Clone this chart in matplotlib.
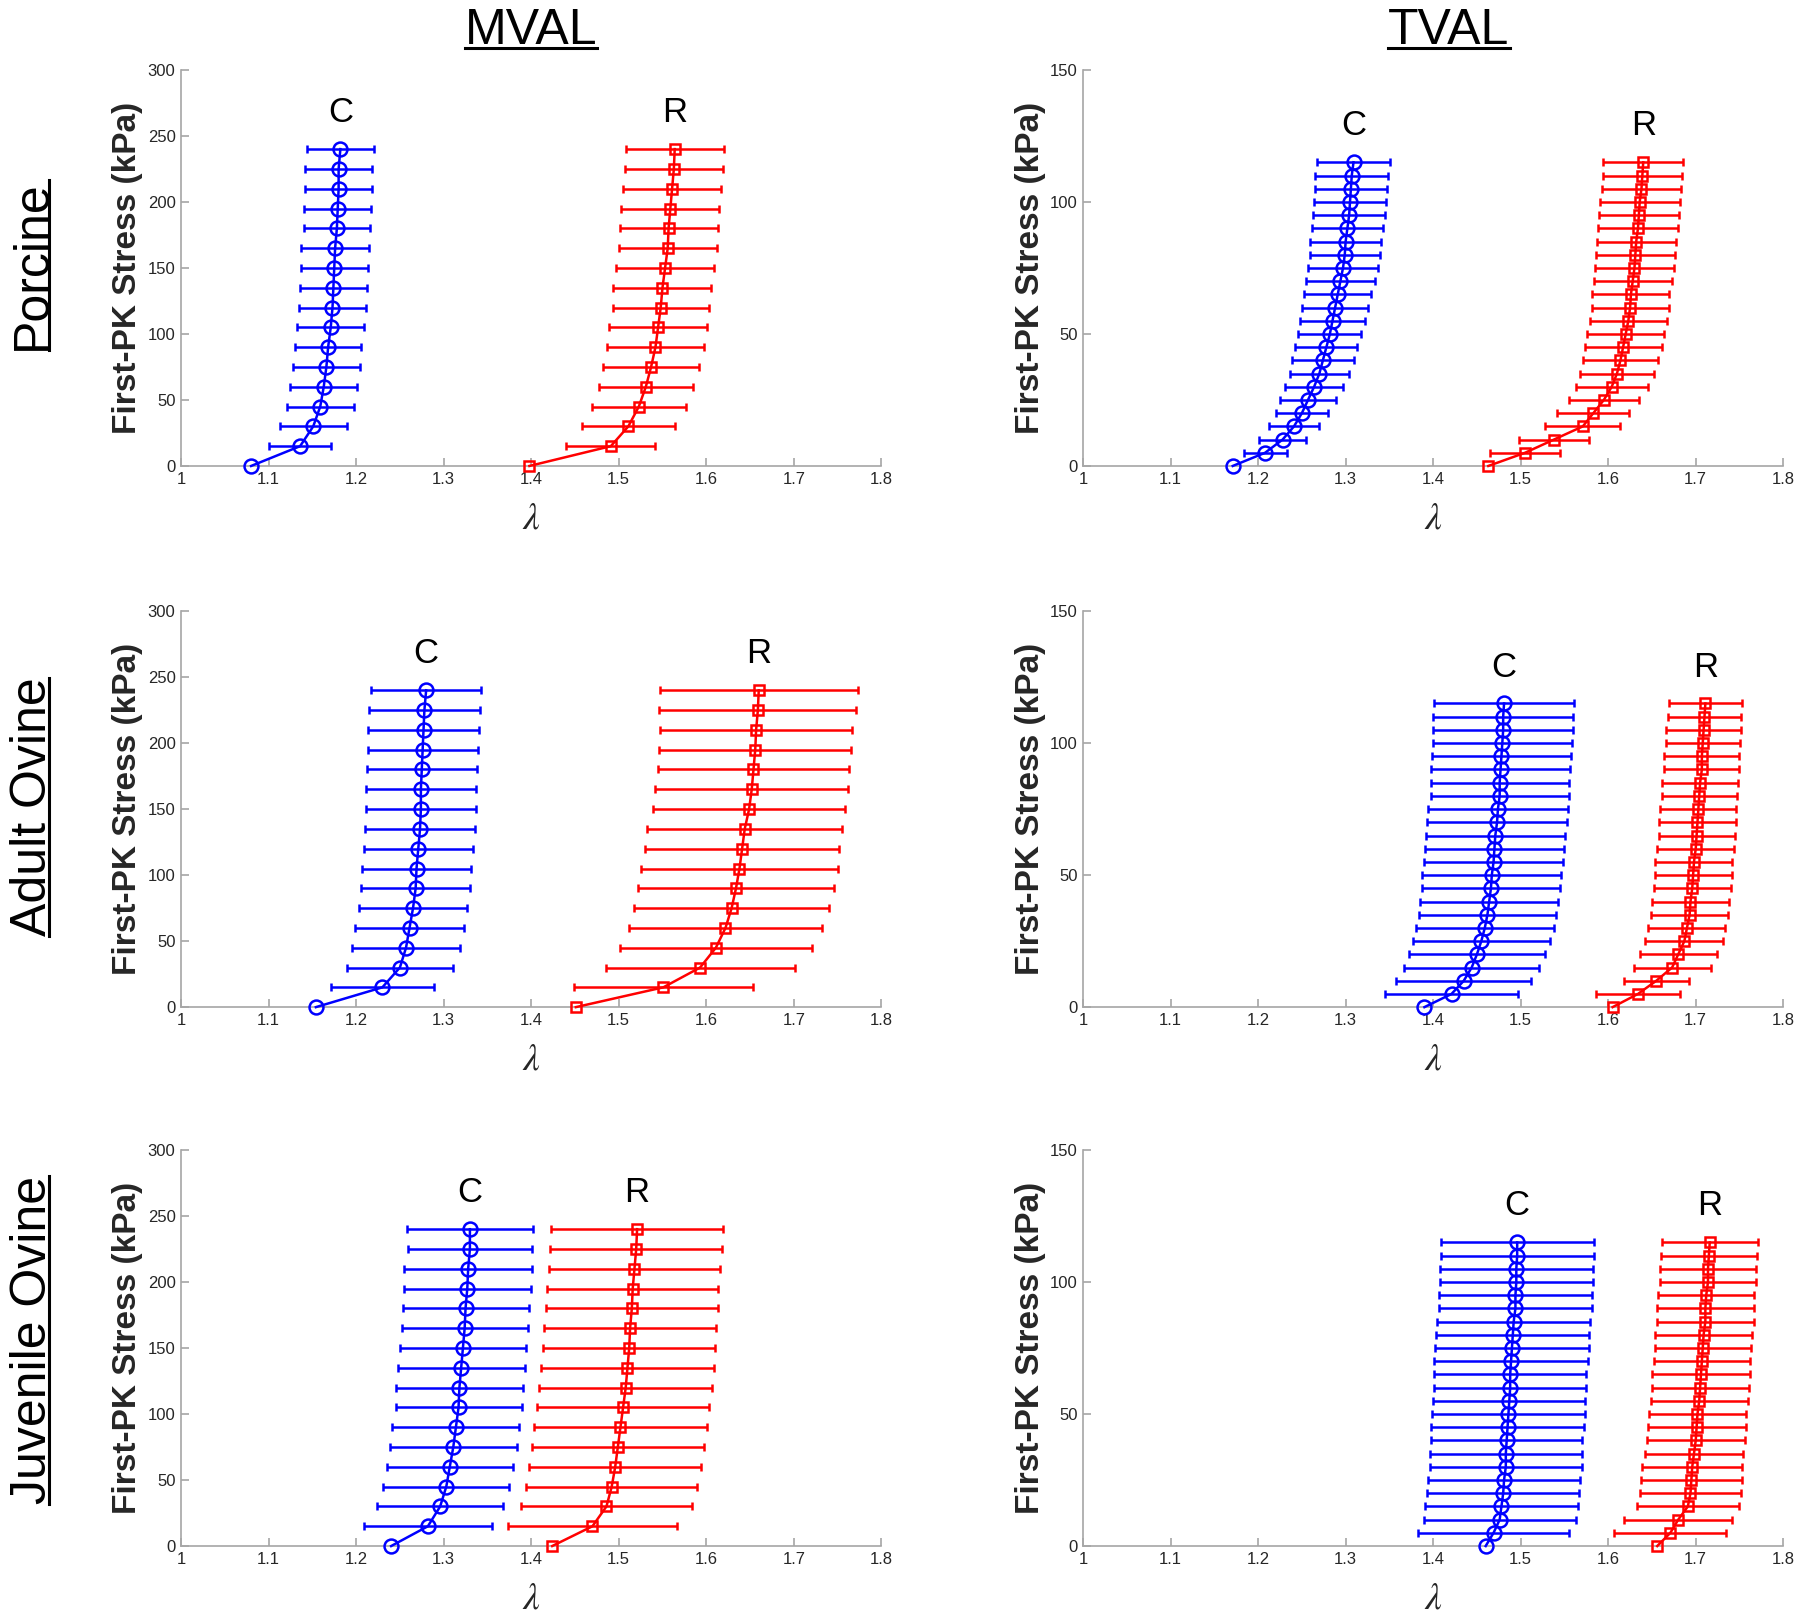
import numpy as np
import matplotlib
matplotlib.use("Agg")
import matplotlib.pyplot as plt
from matplotlib.lines import Line2D

plt.rcParams["font.family"] = ["Liberation Sans", "DejaVu Sans"]
plt.rcParams["mathtext.fontset"] = "stix"

# stress levels (kPa)
stress_mval = [0, 15, 30, 45, 60, 75, 90, 105, 120, 135, 150, 165, 180, 195, 210, 225, 240]
stress_tval = [0, 5, 10, 15, 20, 25, 30, 35, 40, 45, 50, 55, 60, 65, 70, 75, 80, 85, 90, 95,
               100, 105, 110, 115]

# mean stretch and SD, C = circumferential, R = radial
porcine_mval_c = [1.080, 1.136, 1.151, 1.159, 1.163, 1.166, 1.168, 1.171, 1.173, 1.174, 1.175,
                  1.176, 1.178, 1.179, 1.180, 1.180, 1.182]
porcine_mval_c_sd = [0, 0.035, 0.038, 0.038, 0.038, 0.038, 0.038, 0.0385, 0.038, 0.0385, 0.038,
                     0.0385, 0.038, 0.0385, 0.038, 0.038, 0.038]
porcine_mval_r = [1.398, 1.491, 1.511, 1.523, 1.531, 1.537, 1.542, 1.545, 1.548, 1.550, 1.553,
                  1.556, 1.557, 1.559, 1.561, 1.563, 1.564]
porcine_mval_r_sd = [0, 0.051, 0.053, 0.054, 0.054, 0.055, 0.055, 0.056, 0.055, 0.056, 0.056,
                     0.056, 0.056, 0.056, 0.056, 0.056, 0.056]

porcine_tval_c = [1.171, 1.208, 1.228, 1.241, 1.250, 1.257, 1.264, 1.270, 1.274, 1.278, 1.282,
                  1.285, 1.288, 1.291, 1.294, 1.297, 1.299, 1.300, 1.302, 1.304, 1.305, 1.306,
                  1.307, 1.309]
porcine_tval_c_sd = [0, 0.0245, 0.027, 0.029, 0.030, 0.032, 0.033, 0.034, 0.035, 0.0355, 0.036,
                     0.037, 0.0375, 0.038, 0.0395, 0.040, 0.040, 0.0405, 0.041, 0.041, 0.0415,
                     0.0415, 0.0415, 0.0415]
porcine_tval_r = [1.463, 1.505, 1.538, 1.571, 1.583, 1.595, 1.604, 1.610, 1.614, 1.617, 1.620,
                  1.623, 1.625, 1.626, 1.628, 1.630, 1.631, 1.632, 1.634, 1.635, 1.636, 1.638,
                  1.639, 1.640]
porcine_tval_r_sd = [0, 0.040, 0.040, 0.043, 0.041, 0.040, 0.041, 0.042, 0.043, 0.044, 0.044,
                     0.044, 0.044, 0.044, 0.0445, 0.045, 0.045, 0.045, 0.0455, 0.0455, 0.0455,
                     0.0455, 0.0455, 0.0455]

adult_mval_c = [1.154, 1.230, 1.250, 1.257, 1.261, 1.265, 1.268, 1.269, 1.271, 1.273, 1.274,
                1.274, 1.275, 1.276, 1.277, 1.278, 1.280]
adult_mval_c_sd = [0, 0.059, 0.061, 0.062, 0.062, 0.062, 0.062, 0.0625, 0.0625, 0.0625, 0.0625,
                   0.063, 0.063, 0.063, 0.063, 0.063, 0.063]
adult_mval_r = [1.451, 1.551, 1.593, 1.611, 1.622, 1.629, 1.634, 1.638, 1.641, 1.644, 1.649,
                1.652, 1.654, 1.656, 1.657, 1.659, 1.660]
adult_mval_r_sd = [0, 0.1025, 0.108, 0.110, 0.110, 0.111, 0.1115, 0.112, 0.111, 0.1115, 0.110,
                   0.110, 0.1095, 0.1095, 0.110, 0.1125, 0.113]

adult_tval_c = [1.390, 1.421, 1.435, 1.444, 1.450, 1.455, 1.459, 1.462, 1.464, 1.466, 1.467,
                1.469, 1.470, 1.471, 1.473, 1.474, 1.476, 1.476, 1.477, 1.478, 1.479, 1.480,
                1.480, 1.481]
adult_tval_c_sd = [0, 0.0765, 0.077, 0.077, 0.0775, 0.078, 0.0785, 0.0785, 0.079, 0.079, 0.0795,
                   0.0795, 0.0795, 0.0795, 0.0795, 0.0795, 0.079, 0.079, 0.079, 0.079, 0.0795,
                   0.080, 0.080, 0.080]
adult_tval_r = [1.605, 1.634, 1.655, 1.673, 1.680, 1.687, 1.690, 1.693, 1.694, 1.696, 1.697,
                1.698, 1.700, 1.701, 1.702, 1.703, 1.704, 1.705, 1.707, 1.707, 1.708, 1.709,
                1.710, 1.711]
adult_tval_r_sd = [0, 0.0475, 0.037, 0.044, 0.044, 0.0445, 0.044, 0.044, 0.0445, 0.044, 0.044,
                   0.044, 0.044, 0.0435, 0.0435, 0.0435, 0.043, 0.043, 0.043, 0.043, 0.0425,
                   0.0425, 0.042, 0.042]

juvenile_mval_c = [1.240, 1.282, 1.296, 1.303, 1.307, 1.311, 1.314, 1.317, 1.318, 1.320, 1.322,
                   1.324, 1.325, 1.327, 1.328, 1.330, 1.330]
juvenile_mval_c_sd = [0, 0.073, 0.072, 0.072, 0.072, 0.0725, 0.0725, 0.072, 0.0725, 0.0725,
                      0.072, 0.072, 0.072, 0.0725, 0.073, 0.071, 0.072]
juvenile_mval_r = [1.424, 1.470, 1.486, 1.492, 1.496, 1.499, 1.502, 1.505, 1.508, 1.510, 1.512,
                   1.513, 1.515, 1.516, 1.518, 1.520, 1.521]
juvenile_mval_r_sd = [0, 0.0965, 0.098, 0.098, 0.0985, 0.0985, 0.0985, 0.0985, 0.0985, 0.0985,
                      0.0985, 0.0985, 0.098, 0.098, 0.098, 0.098, 0.098]

juvenile_tval_c = [1.460, 1.469, 1.476, 1.478, 1.480, 1.481, 1.483, 1.483, 1.484, 1.485, 1.486,
                   1.487, 1.488, 1.488, 1.489, 1.490, 1.491, 1.492, 1.494, 1.494, 1.495, 1.495,
                   1.496, 1.496]
juvenile_tval_c_sd = [0, 0.086, 0.087, 0.087, 0.087, 0.087, 0.087, 0.0865, 0.0865, 0.087, 0.087,
                      0.087, 0.087, 0.087, 0.0875, 0.0875, 0.0875, 0.0875, 0.0875, 0.0875,
                      0.0875, 0.0875, 0.0875, 0.0875]
juvenile_tval_r = [1.656, 1.671, 1.680, 1.691, 1.694, 1.695, 1.696, 1.698, 1.700, 1.701, 1.702,
                   1.704, 1.705, 1.706, 1.707, 1.708, 1.709, 1.711, 1.711, 1.712, 1.714, 1.714,
                   1.715, 1.716]
juvenile_tval_r_sd = [0, 0.064, 0.062, 0.058, 0.0575, 0.0575, 0.057, 0.056, 0.056, 0.056, 0.0555,
                      0.0555, 0.0555, 0.0555, 0.055, 0.055, 0.055, 0.055, 0.055, 0.055, 0.055,
                      0.055, 0.055, 0.055]

row_titles = ["Porcine", "Adult Ovine", "Juvenile Ovine"]
col_titles = ["MVAL", "TVAL"]
x_ticks = [1, 1.1, 1.2, 1.3, 1.4, 1.5, 1.6, 1.7, 1.8]
x_ticklabels = ["1", "1.1", "1.2", "1.3", "1.4", "1.5", "1.6", "1.7", "1.8"]
mval_yticks = [0, 50, 100, 150, 200, 250, 300]
tval_yticks = [0, 50, 100, 150]

panels = [
    [(stress_mval, porcine_mval_c, porcine_mval_c_sd, porcine_mval_r, porcine_mval_r_sd),
     (stress_tval, porcine_tval_c, porcine_tval_c_sd, porcine_tval_r, porcine_tval_r_sd)],
    [(stress_mval, adult_mval_c, adult_mval_c_sd, adult_mval_r, adult_mval_r_sd),
     (stress_tval, adult_tval_c, adult_tval_c_sd, adult_tval_r, adult_tval_r_sd)],
    [(stress_mval, juvenile_mval_c, juvenile_mval_c_sd, juvenile_mval_r, juvenile_mval_r_sd),
     (stress_tval, juvenile_tval_c, juvenile_tval_c_sd, juvenile_tval_r, juvenile_tval_r_sd)],
]

SPINE = "#a6a6a6"
TXT = "#262626"

fig = plt.figure(figsize=(18, 16.14), dpi=100)

col_left = [0.1006, 0.6017]
ax_w = 0.389
row_bottom = [0.7113, 0.376, 0.0421]
ax_h = 0.2454


def draw_series(ax, y, mean, sd, color, marker, ms):
    y = np.array(y)
    mean = np.array(mean)
    sd = np.array(sd)
    has = sd > 0
    ax.errorbar(mean[has], y[has], xerr=sd[has], fmt="none", ecolor=color,
                elinewidth=1.8, capsize=3, capthick=1.8, zorder=2)
    ax.plot(mean, y, color=color, lw=1.8, marker=marker, ms=ms,
            mfc="none", mec=color, mew=1.8, zorder=3, clip_on=False)


for i in range(3):
    for j in range(2):
        stress, c_mean, c_sd, r_mean, r_sd = panels[i][j]
        ax = fig.add_axes([col_left[j], row_bottom[i], ax_w, ax_h])
        draw_series(ax, stress, c_mean, c_sd, "#0000ff", "o", 10)
        draw_series(ax, stress, r_mean, r_sd, "#ff0000", "s", 7)

        yticks = mval_yticks if j == 0 else tval_yticks
        ymax = yticks[-1]
        ax.set_xlim(1, 1.8)
        ax.set_ylim(0, ymax)
        ax.set_xticks(x_ticks)
        ax.set_xticklabels(x_ticklabels)
        ax.set_yticks(yticks)

        # C / R labels above the top point
        ax.text(c_mean[-1], stress[-1] + 0.092 * ymax, "C", fontsize=25,
                ha="center", va="center", color="black")
        ax.text(r_mean[-1], stress[-1] + 0.092 * ymax, "R", fontsize=25,
                ha="center", va="center", color="black")

        for s in ["top", "right"]:
            ax.spines[s].set_visible(False)
        for s in ["left", "bottom"]:
            ax.spines[s].set_color(SPINE)
            ax.spines[s].set_linewidth(1.2)
        ax.tick_params(direction="in", length=6, width=1.2, color=SPINE,
                       labelsize=12, labelcolor=TXT, pad=4)
        ax.set_ylabel("First-PK Stress (kPa)", fontsize=24, fontweight="bold",
                      color=TXT, labelpad=3)
        ax.set_xlabel(r"$\lambda$", fontsize=27, color=TXT, labelpad=10)

# column and row titles with underline
col_x = [0.295, 0.805]
col_texts = []
for x, t in zip(col_x, col_titles):
    col_texts.append(fig.text(x, 0.9727, t, fontsize=36, ha="center", va="baseline"))

row_y = [0.836, 0.5, 0.1695]
row_texts = []
for y, t in zip(row_y, row_titles):
    row_texts.append(fig.text(0.0256, y, t, fontsize=36, rotation=90, ha="center",
                              va="baseline", rotation_mode="anchor"))

fig.canvas.draw()
renderer = fig.canvas.get_renderer()
inv = fig.transFigure.inverted()
for t in col_texts:
    bb = t.get_window_extent(renderer).transformed(inv)
    fig.add_artist(Line2D([bb.x0, bb.x1], [0.9705, 0.9705], color="black", lw=2.2,
                          transform=fig.transFigure))
for t in row_texts:
    bb = t.get_window_extent(renderer).transformed(inv)
    fig.add_artist(Line2D([0.0272, 0.0272], [bb.y0, bb.y1], color="black", lw=2.2,
                          transform=fig.transFigure))

fig.savefig("out.png", dpi=100)
